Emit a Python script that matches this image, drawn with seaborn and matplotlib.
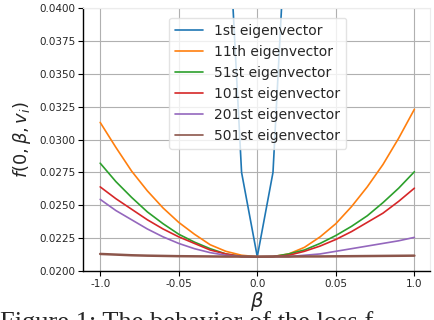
import numpy as np
import pandas as pd
import matplotlib
matplotlib.use("Agg")
import matplotlib.pyplot as plt
import seaborn as sns

beta = [-0.10, -0.09, -0.08, -0.07, -0.06, -0.05, -0.04, -0.03, -0.02, -0.01, 0.00,
        0.01, 0.02, 0.03, 0.04, 0.05, 0.06, 0.07, 0.08, 0.09, 0.10]

ev1 = [0.330, 0.280, 0.230, 0.190, 0.150, 0.120, 0.095, 0.072, 0.0505, 0.0275, 0.02109,
       0.0275, 0.0505, 0.072, 0.095, 0.120, 0.150, 0.190, 0.230, 0.280, 0.330]
ev11 = [0.0313, 0.0294, 0.0276, 0.0261, 0.0248, 0.0237, 0.0228, 0.0220, 0.0215, 0.0212, 0.02109,
        0.0211, 0.0213, 0.0218, 0.0226, 0.0236, 0.0249, 0.0264, 0.0281, 0.0301, 0.0323]
ev51 = [0.0282, 0.0268, 0.0256, 0.0245, 0.0236, 0.0228, 0.0222, 0.0217, 0.0213, 0.0211, 0.02109,
        0.0211, 0.0213, 0.0216, 0.0221, 0.0227, 0.0234, 0.0242, 0.0252, 0.0263, 0.02755]
ev101 = [0.0264, 0.0255, 0.0247, 0.0239, 0.0232, 0.0226, 0.0221, 0.0216, 0.0213, 0.0211, 0.02109,
         0.0211, 0.0212, 0.0215, 0.0219, 0.0224, 0.0230, 0.0237, 0.0244, 0.0253, 0.0263]
ev201 = [0.02545, 0.0246, 0.0239, 0.0232, 0.0226, 0.0221, 0.0217, 0.0214, 0.0212, 0.0211, 0.02109,
         0.0211, 0.0211, 0.0212, 0.0213, 0.0215, 0.0217, 0.0219, 0.0221, 0.0223, 0.02256]
ev501 = [0.02130, 0.02125, 0.02120, 0.02117, 0.02115, 0.02113, 0.02112, 0.02111, 0.02110, 0.02110, 0.02109,
         0.02110, 0.02110, 0.02111, 0.02111, 0.02112, 0.02113, 0.02114, 0.02115, 0.02116, 0.02117]

labels = ["1st eigenvector", "11th eigenvector", "51st eigenvector",
          "101st eigenvector", "201st eigenvector", "501st eigenvector"]
series = [ev1, ev11, ev51, ev101, ev201, ev501]

xtick_pos = [-0.10, -0.05, 0.0, 0.05, 0.10]
xtick_labels = ["-1.0", "-0.05", "0.0", "0.05", "1.0"]

df = pd.DataFrame({
    "beta": beta * len(series),
    "value": sum(series, []),
    "vec": np.repeat(labels, len(beta)),
})

sns.set_style("whitegrid")
fig = plt.figure(figsize=(4.34, 3.2), dpi=100)
ax = fig.add_axes([0.191, 0.153, 0.800, 0.822])

sns.lineplot(data=df, x="beta", y="value", hue="vec", hue_order=labels,
             palette="tab10", linewidth=1.2, ax=ax, sort=False)
for line, lw in zip(ax.get_lines(), [1.2, 1.2, 1.2, 1.2, 1.2, 1.8]):
    line.set_linewidth(lw)

ax.set_xlim(-0.111, 0.110)
ax.set_ylim(0.02, 0.04)
yt = np.arange(0.02, 0.04001, 0.0025)
ax.set_yticks(yt)
ax.set_yticklabels([f"{v:.4f}" for v in yt], fontsize=7.5)
ax.set_xticks(xtick_pos)
ax.set_xticklabels(xtick_labels, fontsize=7.5)
ax.tick_params(axis="both", length=3.5, color="black", pad=2, left=True, bottom=True)

ax.grid(True, color="#b0b0b0", linewidth=0.8)
for s in ["left", "bottom"]:
    ax.spines[s].set_color("black")
    ax.spines[s].set_linewidth(1.0)
for s in ["top", "right"]:
    ax.spines[s].set_color("#ececec")

ax.set_xlabel(r"$\beta$", fontsize=14, labelpad=1)
ax.set_ylabel(r"$f(0, \beta, v_i)$", fontsize=13, labelpad=4)

leg = ax.legend(loc="upper center", bbox_to_anchor=(0.503, 0.99), fontsize=10,
                frameon=True, borderpad=0.45, labelspacing=0.5, handlelength=2.0)
leg.get_frame().set_edgecolor("#dddddd")

fig.text(0.0, -0.045, "Figure 1: The behavior of the loss f", fontsize=19,
         family="Liberation Serif", ha="left", va="bottom")

fig.savefig("out.png", dpi=100)
